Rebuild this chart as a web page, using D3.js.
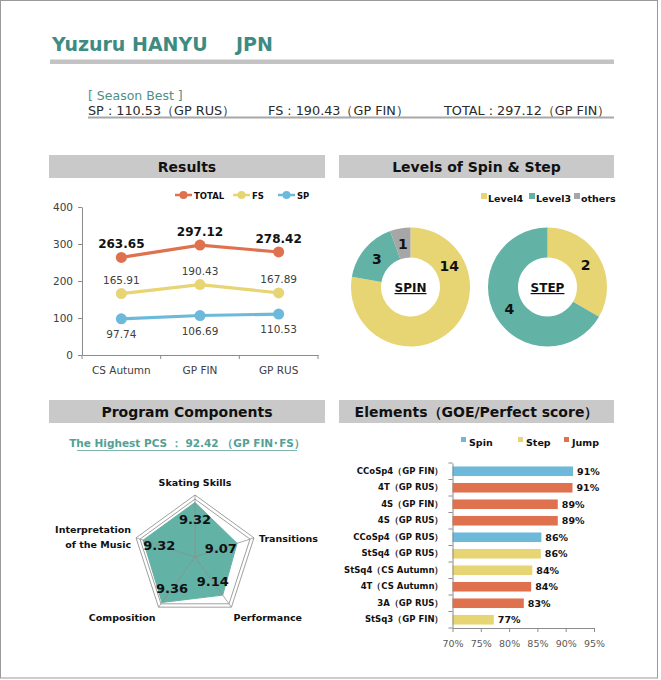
<!DOCTYPE html>
<html>
<head>
<meta charset="utf-8">
<script src="https://cdn.jsdelivr.net/npm/d3@7"></script>
<style>
  body { margin: 0; background: #fff; }
  svg text { font-family: "DejaVu Sans", Verdana, sans-serif; }
</style>
</head>
<body>
<div id="chart"></div>
<script>
// ---- data ----
var competitions = ["CS Autumn", "GP FIN", "GP RUS"];
var totalScores = [263.65, 297.12, 278.42];
var fsScores = [165.91, 190.43, 167.89];
var spScores = [97.74, 106.69, 110.53];
var scoreTicks = [0, 100, 200, 300, 400];

var levelNames = ["Level4", "Level3", "others"];
var spinLevels = [14, 3, 1];
var stepLevels = [2, 4, 0];

var pcsNames = ["Skating Skills", "Transitions", "Performance", "Composition", "Interpretation of the Music"];
var pcsValues = [9.32, 9.07, 9.14, 9.36, 9.32];

var elementNames = ["CCoSp4（GP FIN）", "4T（GP RUS）", "4S（GP FIN）", "4S（GP RUS）", "CCoSp4（GP RUS）",
    "StSq4（GP RUS）", "StSq4（CS Autumn）", "4T（CS Autumn）", "3A（GP RUS）", "StSq3（GP FIN）"];
var elementTypes = ["Spin", "Jump", "Jump", "Jump", "Spin", "Step", "Step", "Jump", "Jump", "Step"];
var goeRatios = [0.913, 0.912, 0.886, 0.886, 0.857, 0.856, 0.841, 0.839, 0.826, 0.773];
var goeTicks = [0.70, 0.75, 0.80, 0.85, 0.90, 0.95];

// ---- colours ----
var orange = "#e0714f", yellow = "#e7d473", blue = "#6db9da", teal = "#62b2a5", grey = "#a6a6a6";
var titleTeal = "#3d8b81";

var width = 661, height = 680;

var svg = d3.select("#chart").append("svg")
    .attr("width", width)
    .attr("height", height);

// frame
svg.append("rect")
    .attr("x", 0.5).attr("y", 0.5)
    .attr("width", 657).attr("height", 677.5)
    .attr("fill", "none").attr("stroke", "#9a9a9a");

// ---- header ----
svg.append("text")
    .attr("x", 52).attr("y", 51)
    .attr("fill", titleTeal)
    .style("font-size", "19px").style("font-weight", "bold")
    .text("Yuzuru HANYU");
svg.append("text")
    .attr("x", 236).attr("y", 51)
    .attr("fill", titleTeal)
    .style("font-size", "19px").style("font-weight", "bold")
    .text("JPN");
svg.append("rect")
    .attr("x", 50).attr("y", 59.5).attr("width", 564).attr("height", 4.5)
    .attr("fill", "#c3c3c3");

svg.append("text")
    .attr("x", 88).attr("y", 100)
    .attr("fill", "#4a8f88")
    .style("font-size", "12.5px")
    .text("[ Season Best ]");

var seasonBest = [
    {x: 88, t: "SP : " + spScores[2] + "（GP RUS）"},
    {x: 268, t: "FS : " + fsScores[1] + "（GP FIN）"},
    {x: 444, t: "TOTAL : " + totalScores[1] + "（GP FIN）"}
];
svg.selectAll(".sb").data(seasonBest).enter().append("text")
    .attr("class", "sb")
    .attr("x", function(d) { return d.x; })
    .attr("y", 115)
    .attr("fill", "#2a2a2a")
    .style("font-size", "12.8px")
    .text(function(d) { return d.t; });
svg.append("rect")
    .attr("x", 88).attr("y", 116.5).attr("width", 526).attr("height", 2)
    .attr("fill", "#a8a8a8");

// section title bars
function sectionTitle(x, y, w, label) {
    svg.append("rect")
        .attr("x", x).attr("y", y).attr("width", w).attr("height", 23)
        .attr("fill", "#c9c9c9");
    svg.append("text")
        .attr("x", x + w / 2).attr("y", y + 17)
        .attr("text-anchor", "middle")
        .attr("fill", "#111")
        .style("font-size", "14px").style("font-weight", "bold")
        .text(label);
}
sectionTitle(49, 155, 276, "Results");
sectionTitle(339, 155, 275, "Levels of Spin & Step");
sectionTitle(49, 400, 276, "Program Components");
sectionTitle(339, 400, 275, "Elements（GOE/Perfect score）");

// ---- Results line chart ----
var x = d3.scaleBand().domain(competitions).range([82, 318]);
var y = d3.scaleLinear().domain([0, 400]).range([355, 207]);

var yAxis = svg.append("g")
    .attr("transform", "translate(82,0)")
    .call(d3.axisLeft(y).tickValues(scoreTicks).tickSize(4).tickSizeOuter(0).tickPadding(5));
var xAxis = svg.append("g")
    .attr("transform", "translate(0,355)")
    .call(d3.axisBottom(x).tickSize(0).tickPadding(12));
[yAxis, xAxis].forEach(function(a) {
    a.select(".domain").attr("stroke", "#8c8c8c");
    a.selectAll(".tick line").attr("stroke", "#8c8c8c");
    a.selectAll("text").attr("fill", "#404040")
        .style("font-size", "10.5px").style("font-family", "'DejaVu Sans', sans-serif");
});
// ticks between categories
xAxis.selectAll(".sep")
    .data(d3.range(competitions.length + 1))
    .enter().append("line")
    .attr("x1", function(i) { return 82 + i * x.step(); })
    .attr("x2", function(i) { return 82 + i * x.step(); })
    .attr("y1", 0).attr("y2", 4)
    .attr("stroke", "#8c8c8c");

var seriesList = [
    {name: "TOTAL", values: totalScores, color: orange, dy: -9, bold: true, size: 12},
    {name: "FS", values: fsScores, color: yellow, dy: -10, bold: false, size: 10.5},
    {name: "SP", values: spScores, color: blue, dy: 19, bold: false, size: 10.5}
];

var line = d3.line()
    .x(function(d, i) { return x(competitions[i]) + x.bandwidth() / 2; })
    .y(function(d) { return y(d); });

seriesList.forEach(function(s) {
    var g = svg.append("g");
    g.append("path")
        .attr("d", line(s.values))
        .attr("fill", "none")
        .attr("stroke", s.color)
        .attr("stroke-width", 3.2);
    g.selectAll("circle").data(s.values).enter().append("circle")
        .attr("cx", function(d, i) { return x(competitions[i]) + x.bandwidth() / 2; })
        .attr("cy", y)
        .attr("r", 5.5)
        .attr("fill", s.color);
    g.selectAll("text").data(s.values).enter().append("text")
        .attr("x", function(d, i) { return x(competitions[i]) + x.bandwidth() / 2; })
        .attr("y", function(d) { return y(d) + s.dy; })
        .attr("text-anchor", "middle")
        .attr("fill", s.bold ? "#111" : "#404040")
        .style("font-size", s.size + "px")
        .style("font-weight", s.bold ? "bold" : "normal")
        .text(function(d) { return d.toFixed(2); });
});

// line legend
var lineLegend = svg.append("g").attr("transform", "translate(0,195)");
var legX = [175, 233, 278];
seriesList.forEach(function(s, i) {
    lineLegend.append("line")
        .attr("x1", legX[i]).attr("x2", legX[i] + 17)
        .attr("stroke", s.color).attr("stroke-width", 2.5);
    lineLegend.append("circle")
        .attr("cx", legX[i] + 8.5).attr("r", 4).attr("fill", s.color);
    lineLegend.append("text")
        .attr("x", legX[i] + 19).attr("y", 3.5)
        .attr("fill", "#111")
        .style("font-size", "8.5px").style("font-weight", "bold")
        .text(s.name);
});

// ---- Levels donuts ----
var levelColors = d3.scaleOrdinal().domain(levelNames).range([yellow, teal, grey]);
var pie = d3.pie().sort(null).value(function(d) { return d.v; });
var arc = d3.arc().innerRadius(29.5).outerRadius(59.5);
var labelArc = d3.arc().innerRadius(44).outerRadius(44);

function donut(cx, cy, counts, title, labelShift) {
    var g = svg.append("g").attr("transform", "translate(" + cx + "," + cy + ")");
    var arcs = pie(counts.map(function(v, i) { return {name: levelNames[i], v: v}; }));
    g.selectAll("path").data(arcs).enter().append("path")
        .attr("d", arc)
        .attr("fill", function(d) { return levelColors(d.data.name); });
    g.selectAll(".lbl").data(arcs.filter(function(d) { return d.data.v > 0; }))
        .enter().append("text")
        .attr("class", "lbl")
        .attr("transform", function(d) {
            // excel moved some labels off the slice centre
            var a = labelShift[d.data.name];
            if (a !== undefined) {
                var rad = a * Math.PI / 180;
                return "translate(" + (44 * Math.sin(rad)) + "," + (-44 * Math.cos(rad)) + ")";
            }
            return "translate(" + labelArc.centroid(d) + ")";
        })
        .attr("dy", "0.36em")
        .attr("text-anchor", "middle")
        .attr("fill", "#111")
        .style("font-size", "14px").style("font-weight", "bold")
        .text(function(d) { return d.data.v; });
    g.append("text")
        .attr("y", 5)
        .attr("text-anchor", "middle")
        .attr("fill", "#111")
        .style("font-size", "12px").style("font-weight", "bold")
        .style("text-decoration", "underline")
        .text(title);
}
donut(410.5, 287, spinLevels, "SPIN", {Level4: 62});
donut(547.5, 287, stepLevels, "STEP", {});

var levelLegend = svg.append("g").attr("transform", "translate(0,198)");
var lvX = [481, 529, 574];
levelNames.forEach(function(n, i) {
    levelLegend.append("rect")
        .attr("x", lvX[i]).attr("y", -5).attr("width", 6).attr("height", 6)
        .attr("fill", levelColors(n));
    levelLegend.append("text")
        .attr("x", lvX[i] + 7).attr("y", 3.5)
        .attr("fill", "#111")
        .style("font-size", "9.5px").style("font-weight", "bold")
        .text(n);
});

// ---- Program Components radar ----
svg.append("text")
    .attr("x", 187).attr("y", 447)
    .attr("text-anchor", "middle")
    .attr("fill", "#54a096")
    .style("font-size", "10.5px").style("font-weight", "bold")
    .text("The Highest PCS ： 92.42 （GP FIN･FS）");
svg.append("line")
    .attr("x1", 77).attr("x2", 297).attr("y1", 450.5).attr("y2", 450.5)
    .attr("stroke", "#7fb5ae").attr("stroke-width", 1.2);

var rcx = 195, rcy = 557;
var r = d3.scaleLinear().domain([8, 9.5]).range([0, 62]);
var angle = function(i) { return i * 2 * Math.PI / pcsNames.length; };
var pt = function(i, v) { return [rcx + r(v) * Math.sin(angle(i)), rcy - r(v) * Math.cos(angle(i))]; };

var radar = svg.append("g");
[9.4, 9.5].forEach(function(level) {
    radar.append("polygon")
        .attr("points", pcsNames.map(function(n, i) { return pt(i, level).join(","); }).join(" "))
        .attr("fill", "none")
        .attr("stroke", "#a0a0a0")
        .attr("stroke-width", 1);
});
radar.append("polygon")
    .attr("points", pcsValues.map(function(v, i) { return pt(i, v).join(","); }).join(" "))
    .attr("fill", teal)
    .attr("stroke", teal);
radar.selectAll(".spoke").data(pcsNames).enter().append("line")
    .attr("x1", rcx).attr("y1", rcy)
    .attr("x2", function(n, i) { return pt(i, 9.5)[0]; })
    .attr("y2", function(n, i) { return pt(i, 9.5)[1]; })
    .attr("stroke", "#8e8e8e").attr("stroke-opacity", 0.75);

radar.selectAll(".val").data(pcsValues).enter().append("text")
    .attr("x", function(v, i) { return rcx + (r(v) - 17) * Math.sin(angle(i)); })
    .attr("y", function(v, i) { return rcy - (r(v) - 17) * Math.cos(angle(i)); })
    .attr("dy", "0.36em")
    .attr("text-anchor", "middle")
    .attr("fill", "#111")
    .style("font-size", "13px").style("font-weight", "bold")
    .text(function(v) { return v.toFixed(2); });

// axis names
var nameAnchor = ["middle", "start", "start", "end", "end"];
var nameOffset = [[0, -9], [5, 4], [2, 14], [-3, 14], [-5, -5]];
radar.selectAll(".axname").data(pcsNames).enter().append("text")
    .attr("text-anchor", function(n, i) { return nameAnchor[i]; })
    .attr("fill", "#111")
    .style("font-size", "9.5px").style("font-weight", "bold")
    .each(function(n, i) {
        var p = pt(i, 9.5);
        var words = i === 4 ? ["Interpretation", "of the Music"] : [n];
        d3.select(this).selectAll("tspan").data(words).enter().append("tspan")
            .attr("x", p[0] + nameOffset[i][0])
            .attr("y", function(w, k) { return p[1] + nameOffset[i][1] + k * 15; })
            .text(function(w) { return w; });
    });

// ---- Elements bar chart ----
var typeNames = ["Spin", "Step", "Jump"];
var typeColor = d3.scaleOrdinal().domain(typeNames).range([blue, yellow, orange]);
var bx = d3.scaleLinear().domain([0.70, 0.95]).range([452.5, 594]);
var by = d3.scaleBand().domain(elementNames).range([463, 628]).paddingInner(0.42).paddingOuter(0.21);

var bars = svg.append("g");
bars.selectAll("rect").data(goeRatios).enter().append("rect")
    .attr("x", bx(0.70))
    .attr("y", function(d, i) { return by(elementNames[i]); })
    .attr("width", function(d) { return bx(d) - bx(0.70); })
    .attr("height", by.bandwidth())
    .attr("fill", function(d, i) { return typeColor(elementTypes[i]); });
bars.selectAll(".pct").data(goeRatios).enter().append("text")
    .attr("class", "pct")
    .attr("x", function(d) { return bx(d) + 4; })
    .attr("y", function(d, i) { return by(elementNames[i]) + by.bandwidth() / 2; })
    .attr("dy", "0.36em")
    .attr("fill", "#111")
    .style("font-size", "9.5px").style("font-weight", "bold")
    .text(d3.format(".0%"));

var byAxis = svg.append("g")
    .attr("transform", "translate(452.5,0)")
    .call(d3.axisLeft(by).tickSize(0).tickPadding(9));
byAxis.select(".domain").attr("stroke", "#8c8c8c");
byAxis.selectAll("text")
    .attr("fill", "#111")
    .style("font-size", "8.5px").style("font-weight", "bold")
    .style("font-family", "'DejaVu Sans', sans-serif");
byAxis.selectAll(".sep")
    .data(d3.range(elementNames.length + 1))
    .enter().append("line")
    .attr("x1", -4).attr("x2", 0)
    .attr("y1", function(i) { return 463 + i * by.step(); })
    .attr("y2", function(i) { return 463 + i * by.step(); })
    .attr("stroke", "#8c8c8c");

var bxAxis = svg.append("g")
    .attr("transform", "translate(0,628)")
    .call(d3.axisBottom(bx).tickValues(goeTicks).tickFormat(d3.format(".0%")).tickSize(4).tickSizeOuter(0).tickPadding(8));
bxAxis.select(".domain").attr("stroke", "#8c8c8c");
bxAxis.selectAll(".tick line").attr("stroke", "#8c8c8c");
bxAxis.selectAll("text")
    .attr("fill", "#595959")
    .style("font-size", "9.5px")
    .style("font-family", "'DejaVu Sans', sans-serif");

var typeLegend = svg.append("g").attr("transform", "translate(0,442)");
var tyX = [461, 518, 564];
typeNames.forEach(function(n, i) {
    typeLegend.append("rect")
        .attr("x", tyX[i]).attr("y", -5).attr("width", 5).attr("height", 5)
        .attr("fill", typeColor(n));
    typeLegend.append("text")
        .attr("x", tyX[i] + 8).attr("y", 3.5)
        .attr("fill", "#111")
        .style("font-size", "9.5px").style("font-weight", "bold")
        .text(n);
});
</script>
</body>
</html>
